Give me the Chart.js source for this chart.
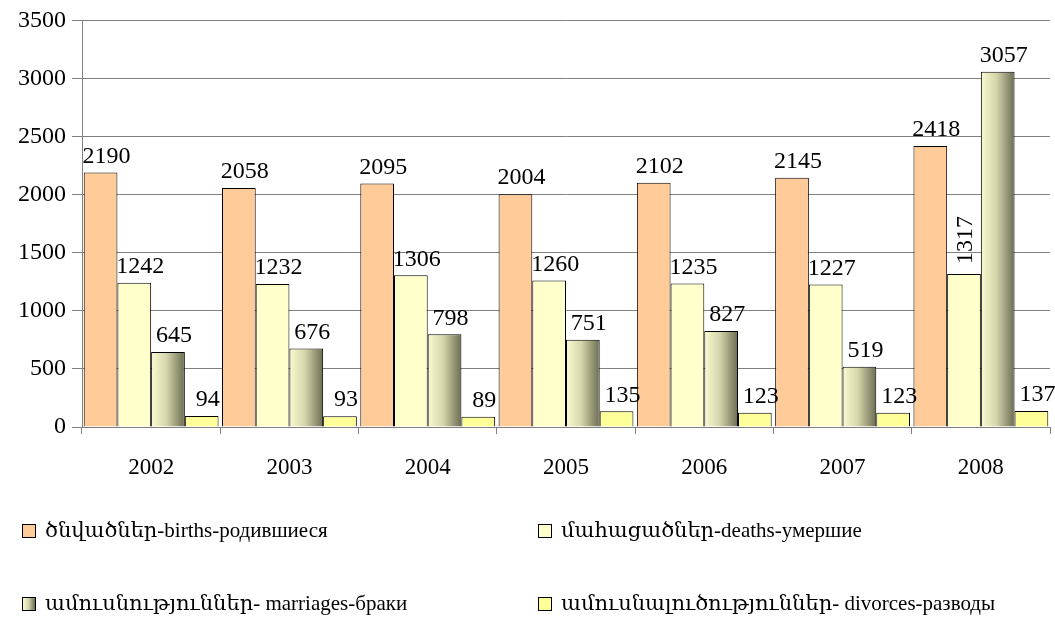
<!DOCTYPE html>
<html>
<head>
<meta charset="utf-8">
<script src="https://cdn.jsdelivr.net/npm/chart.js@4.4.1/dist/chart.umd.min.js"></script>
<style>
  body { margin: 0; background: #fff; }
  #wrap { position: relative; width: 1055px; height: 619px; }
  #chart { position: absolute; left: 0; top: 0; }
  #legend { position: absolute; left: 0; top: 0; width: 1055px; height: 619px; pointer-events: none;
            font-family: "Liberation Serif", "Times New Roman", "DejaVu Serif", serif; font-size: 21px; color: #000; }
  .item { position: absolute; display: flex; align-items: center; white-space: nowrap; }
  .box { width: 12px; height: 12px; border: 1px solid #000; margin-right: 9px; }
</style>
</head>
<body>
<div id="wrap">
  <canvas id="chart" width="1055" height="490"></canvas>
  <div id="legend"></div>
</div>
<script>
// data
const years = ["2002", "2003", "2004", "2005", "2006", "2007", "2008"];
const births = [2190, 2058, 2095, 2004, 2102, 2145, 2418];
const deaths = [1242, 1232, 1306, 1260, 1235, 1227, 1317];
const marriages = [645, 676, 798, 751, 827, 519, 3057];
const divorces = [94, 93, 89, 135, 123, 123, 137];
const seriesNames = [
    "ծնվածներ-births-родившиеся",
    "մահացածներ-deaths-умершие",
    "ամուսնություններ- marriages-браки",
    "ամուսնալուծություններ- divorces-разводы"
];
const yTicks = [0, 500, 1000, 1500, 2000, 2500, 3000, 3500];

const FONT = "'Liberation Serif', 'Times New Roman', serif";
const CAT_PCT = 0.975;

// horizontal gradient for the marriages bars
function marriageFill(ctx) {
    const chart = ctx.chart;
    const xs = chart.scales.x;
    if (!xs || ctx.dataIndex === undefined) return "#c9c9a0";
    const cat = xs.width / years.length * CAT_PCT;
    const barW = cat / 4;
    const left = xs.getPixelForValue(ctx.dataIndex);
    if (!isFinite(left) || !isFinite(barW) || barW <= 0) return "#c9c9a0";
    const g = chart.ctx.createLinearGradient(left, 0, left + barW, 0);
    g.addColorStop(0, "#fbfbd2");
    g.addColorStop(0.45, "#d6d6ac");
    g.addColorStop(1, "#6c6c52");
    return g;
}

// value labels over bars (1317 in 2008 is turned, as in the original)
const rotated = [[1, 6]];
const valueLabels = {
    id: "valueLabels",
    afterDatasetsDraw(chart) {
        const ctx = chart.ctx;
        ctx.save();
        ctx.font = "24px " + FONT;
        ctx.fillStyle = "#000";
        chart.data.datasets.forEach((ds, di) => {
            chart.getDatasetMeta(di).data.forEach((bar, i) => {
                const txt = String(ds.data[i]);
                const turn = rotated.some(r => r[0] === di && r[1] === i);
                if (turn) {
                    ctx.save();
                    ctx.translate(bar.x + 2, bar.y - 10);
                    ctx.rotate(-Math.PI / 2);
                    ctx.textAlign = "left";
                    ctx.textBaseline = "middle";
                    ctx.fillText(txt, 0, 0);
                    ctx.restore();
                } else {
                    ctx.textAlign = "center";
                    ctx.textBaseline = "bottom";
                    ctx.fillText(txt, bar.x + 6, bar.y - 4);
                }
            });
        });
        ctx.restore();
    }
};

const chart = new Chart(document.getElementById("chart"), {
    type: "bar",
    data: {
        labels: years,
        datasets: [
            { label: seriesNames[0], data: births, backgroundColor: "#ffcc99" },
            { label: seriesNames[1], data: deaths, backgroundColor: "#ffffcc" },
            { label: seriesNames[2], data: marriages, backgroundColor: marriageFill },
            { label: seriesNames[3], data: divorces, backgroundColor: "#ffff99" }
        ].map(d => Object.assign(d, { borderColor: "#000", borderWidth: 1, categoryPercentage: CAT_PCT, barPercentage: 1 }))
    },
    options: {
        responsive: false,
        animation: false,
        layout: { padding: { top: 18, right: 5, left: 0, bottom: 0 } },
        plugins: { legend: { display: false }, tooltip: { enabled: false } },
        scales: {
            x: {
                grid: { offset: true, drawOnChartArea: false, color: "#808080", tickLength: 7 },
                border: { color: "#808080" },
                ticks: { color: "#000", font: { family: FONT, size: 23 }, padding: 20 },
                afterFit(s) { s.height = 63; }
            },
            y: {
                min: 0, max: 3500,
                afterBuildTicks(s) { s.ticks = yTicks.map(v => ({ value: v })); },
                grid: { color: "#808080", tickLength: 10 },
                border: { color: "#808080" },
                ticks: { color: "#000", font: { family: FONT, size: 24 }, padding: 6, callback: v => String(v) },
                afterFit(s) { s.width = 82; }
            }
        }
    },
    plugins: [valueLabels]
});

// legend in two columns, built from the chart datasets
const legendPos = [[22, 532], [538, 532], [22, 605], [538, 605]];
const legendEl = document.getElementById("legend");
chart.data.datasets.forEach((ds, i) => {
    const item = document.createElement("div");
    item.className = "item";
    item.style.left = legendPos[i][0] + "px";
    item.style.top = (legendPos[i][1] - 14) + "px";
    const box = document.createElement("span");
    box.className = "box";
    box.style.background = i === 2
        ? "linear-gradient(to right, #fbfbd2, #d6d6ac 45%, #6c6c52)"
        : ds.backgroundColor;
    const t = document.createElement("span");
    t.textContent = ds.label;
    item.appendChild(box);
    item.appendChild(t);
    legendEl.appendChild(item);
});
</script>
</body>
</html>
